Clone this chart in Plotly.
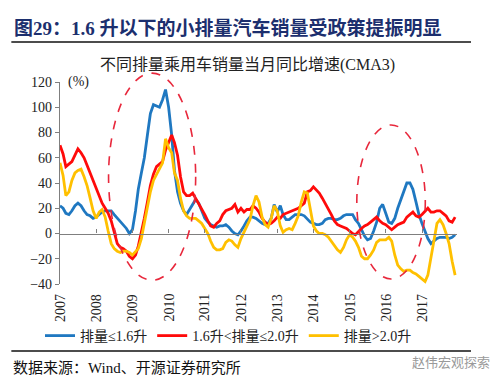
import pandas as pd
import plotly.graph_objects as go

# ---------------- data (monthly, 2007-01 .. 2017-12) ----------------
start_month = "2007-01-01"
n_months = 132

small_le16 = [22, 20, 16, 15, 18, 22, 24, 22, 18, 15, 14, 12,
              13, 15, 17, 18, 18, 18, 15, 12, 9, 7, 4, 0,
              3, 18, 35, 48, 60, 78, 95, 102, 101, 100, 106, 114,
              100, 78, 50, 33, 24, 18, 15, 19, 23, 27, 24, 18,
              12, 9, 7, 6, 5, 6, 6, 7, 5, 2, 0, -1,
              2, 6, 10, 13, 13, 12, 10, 8, 7, 8, 12, 23,
              17, 22, 15, 11, 11, 13, 15, 15, 15, 14, 11, 9,
              8, 7, 7, 8, 11, 12, 12, 11, 11, 12, 14, 15,
              15, 15, 11, 8, 3, -2, -5, -4, 2, 9, 20, 23,
              16, 9, 8, 12, 20, 27, 34, 40, 40, 35, 25, 15,
              8, 2, -4, -8, -6, -4, -3, -3, -3, -4, -3, -1]

mid_16_20 = [70, 63, 53, 55, 57, 62, 67, 64, 60, 54, 48, 42,
             36, 31, 24, 20, 16, 10, 0, -8, -11, -12, -14, -18,
             -20, -17, -10, 0, 12, 25, 38, 47, 53, 55, 57, 66,
             72, 78, 72, 62, 45, 33, 30, 30, 32, 28, 24, 19,
             15, 10, 6, 5, 8, 10, 15, 18, 19, 20, 23, 17,
             20, 17, 19, 19, 22, 20, 17, 12, 9, 7, 8, 10,
             13, 12, 15, 16, 17, 18, 19, 20, 22, 24, 33, 34,
             37, 34, 32, 28, 24, 19, 15, 10, 7, 6, 5, 4,
             2, 0, -1, 2, 4, 6, 7, 9, 11, 13, 10, 8,
             7, 5, 3, 5, 7, 8, 9, 13, 15, 17, 14, 13,
             15, 18, 20, 17, 17, 18, 18, 16, 14, 10, 9, 13]

large_gt20 = [56, 46, 30, 33, 42, 48, 50, 51, 45, 38, 28, 18,
              12, 17, 19, 13, 2, -8, -12, -14, -15, -14, -14, -15,
              -17, -14, -12, -4, 8, 20, 33, 42, 47, 52, 56, 75,
              68, 64, 48, 42, 28, 18, 14, 12, 12, 12, 10, 8,
              4, 0, -6, -11, -13, -13, -12, -7, -5, -6, -9, -11,
              -4, 1, 6, 11, 22, 30, 25, 13, 7, 5, 12, 22,
              18, 6, 1, 3, 4, 3, 8, 14, 25, 33, 32, 20,
              6, 2, 0, 0, -1, -3, -6, -10, -13, -15, -11, -5,
              -1, -3, -6, -11, -18, -20, -20, -17, -13, -7, -5, -5,
              -5, -3, -6, -17, -25, -28, -30, -29, -29, -31, -32, -34,
              -36, -38, -33, -18, -5, 8, 11, 7, 0, -8, -22, -33]

series_names = ["排量≤1.6升", "1.6升<排量≤2.0升", "排量>2.0升"]
y_ticks = [-40, -20, 0, 20, 40, 60, 80, 100, 120]
x_ticks = [str(y) + "-01-01" for y in range(2007, 2018)]
x_tick_text = [str(y) for y in range(2007, 2018)]

dates = pd.date_range(start_month, periods=n_months, freq="MS")

# ---------------- styling / layout helpers ----------------
W, H = 500, 377
PL, PR, PT, PB = 51.7, 449.0, 74.0, 276.0
YMIN, YMAX = -40, 120

def px_x(px):
    return (px - PL) / (PR - PL)

def px_y(py):
    return (PB - py) / (PB - PT)

def val_y(v):
    return (v - YMIN) / (YMAX - YMIN)

colors = ["#1f78c1", "#ff0a0a", "#ffc000"]
SERIF = "Liberation Serif, Noto Sans CJK SC, serif"
CJK = "Noto Sans CJK SC, Liberation Serif, sans-serif"

fig = go.Figure()
for name, vals, c in zip(series_names, [small_le16, mid_16_20, large_gt20], colors):
    fig.add_trace(go.Scatter(x=dates, y=vals, mode="lines", name=name,
                             line=dict(color=c, width=2.8), hoverinfo="skip"))

x_range = ["2007-01-01", "2017-12-20"]
zero_frac = val_y(0)

fig.update_layout(
    width=W, height=H,
    margin=dict(l=PL, r=W - PR, t=PT, b=H - PB, pad=0, autoexpand=False),
    paper_bgcolor="white", plot_bgcolor="white",
    showlegend=True,
    legend=dict(orientation="h", xref="container", yref="container",
                x=32 / W, y=1 - 328 / H, xanchor="left", yanchor="middle",
                font=dict(family=SERIF, size=14, color="#222"),
                itemwidth=30, tracegroupgap=0,
                bgcolor="rgba(0,0,0,0)"),
    xaxis=dict(type="date", range=x_range, tickvals=x_ticks,
               showticklabels=False, anchor="free", position=zero_frac,
               showline=True, linecolor="#7f7f7f", linewidth=1.2,
               showgrid=False, zeroline=False,
               ticks="inside", ticklen=4, tickcolor="#7f7f7f", automargin=False),
    yaxis=dict(range=[YMIN, YMAX], tickvals=y_ticks, showgrid=False,
               zeroline=False, showline=True, linecolor="#7f7f7f", linewidth=1.2,
               ticks="outside", ticklen=4, tickcolor="#7f7f7f", automargin=False,
               tickfont=dict(family=SERIF, size=14, color="#222")),
)

# rotated year labels below the plot, placed at the tick dates
for tv, tt in zip(x_ticks, x_tick_text):
    fig.add_annotation(x=tv, y=px_y(284), xref="x", yref="paper", text=tt,
                       textangle=-90, showarrow=False, xanchor="center",
                       yanchor="top",
                       font=dict(family=SERIF, size=14, color="#222"))

# red dashed ellipses (policy periods)
ellipses = [("2008-05-05", "2010-10-01", -37, 127),
            ("2015-03-15", "2017-02-03", -36, 86)]
for x0, x1, y0, y1 in ellipses:
    fig.add_shape(type="circle", xref="x", yref="paper", x0=x0, x1=x1,
                  y0=val_y(y0), y1=val_y(y1),
                  line=dict(color="#e8283c", width=1.6, dash="dash"),
                  fillcolor="rgba(0,0,0,0)", layer="above")

# horizontal rules
for py in (34, 343):
    fig.add_shape(type="line", xref="paper", yref="paper",
                  x0=px_x(3), x1=px_x(463), y0=px_y(py), y1=px_y(py),
                  line=dict(color="#111", width=1.6))

ann = [
    dict(text="<b>图29：1.6 升以下的小排量汽车销量受政策提振明显</b>",
         x=px_x(4), y=px_y(20), xanchor="left", yanchor="middle",
         font=dict(family=SERIF, size=19, color="#1c2f6e")),
    dict(text="不同排量乘用车销量当月同比增速(CMA3)",
         x=px_x(239), y=px_y(57), xanchor="center", yanchor="middle",
         font=dict(family=SERIF, size=16, color="#222")),
    dict(text="(%)", x=px_x(58), y=px_y(74), xanchor="left", yanchor="middle",
         font=dict(family=SERIF, size=14, color="#222")),
    dict(text="数据来源：Wind、开源证券研究所",
         x=px_x(3), y=px_y(360), xanchor="left", yanchor="middle",
         font=dict(family=SERIF, size=15, color="#111")),
    dict(text="赵伟宏观探索",
         x=px_x(484), y=px_y(353), xanchor="right", yanchor="middle",
         font=dict(family=CJK, size=13, color="#9a9a9a")),
]
for a in ann:
    fig.add_annotation(xref="paper", yref="paper", showarrow=False, **a)

fig.write_html("out.html")
